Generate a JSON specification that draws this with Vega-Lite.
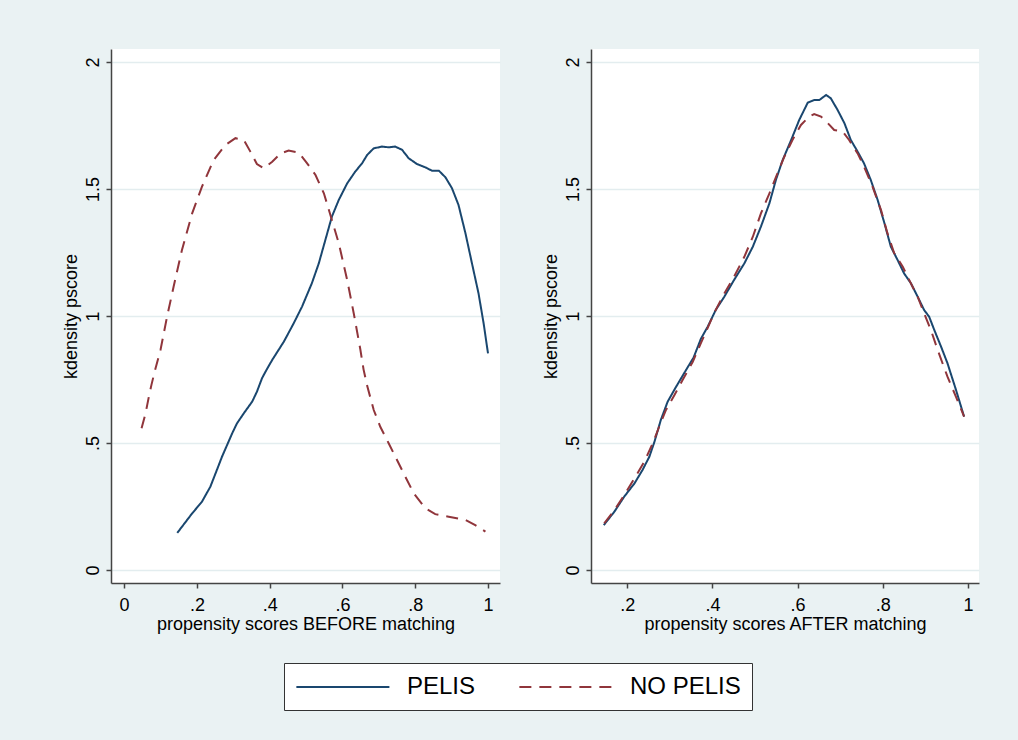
{
  "$schema": "https://vega.github.io/schema/vega-lite/v6.json",
  "background": "#EAF2F3",
  "padding": {"left": 62, "top": 49, "right": 40, "bottom": 30},
  "bounds": "flush",
  "spacing": 91,
  "data": {"values": [
    {"panel":"before","group":"PELIS","x":0.146,"y":0.146},
    {"panel":"before","group":"PELIS","x":0.187,"y":0.223},
    {"panel":"before","group":"PELIS","x":0.214,"y":0.269},
    {"panel":"before","group":"PELIS","x":0.237,"y":0.328},
    {"panel":"before","group":"PELIS","x":0.255,"y":0.394},
    {"panel":"before","group":"PELIS","x":0.269,"y":0.446},
    {"panel":"before","group":"PELIS","x":0.283,"y":0.492},
    {"panel":"before","group":"PELIS","x":0.297,"y":0.538},
    {"panel":"before","group":"PELIS","x":0.310,"y":0.577},
    {"panel":"before","group":"PELIS","x":0.329,"y":0.617},
    {"panel":"before","group":"PELIS","x":0.352,"y":0.663},
    {"panel":"before","group":"PELIS","x":0.365,"y":0.702},
    {"panel":"before","group":"PELIS","x":0.379,"y":0.755},
    {"panel":"before","group":"PELIS","x":0.391,"y":0.787},
    {"panel":"before","group":"PELIS","x":0.407,"y":0.827},
    {"panel":"before","group":"PELIS","x":0.439,"y":0.899},
    {"panel":"before","group":"PELIS","x":0.466,"y":0.971},
    {"panel":"before","group":"PELIS","x":0.489,"y":1.037},
    {"panel":"before","group":"PELIS","x":0.516,"y":1.129},
    {"panel":"before","group":"PELIS","x":0.535,"y":1.207},
    {"panel":"before","group":"PELIS","x":0.553,"y":1.299},
    {"panel":"before","group":"PELIS","x":0.571,"y":1.391},
    {"panel":"before","group":"PELIS","x":0.590,"y":1.457},
    {"panel":"before","group":"PELIS","x":0.613,"y":1.522},
    {"panel":"before","group":"PELIS","x":0.635,"y":1.568},
    {"panel":"before","group":"PELIS","x":0.654,"y":1.601},
    {"panel":"before","group":"PELIS","x":0.668,"y":1.634},
    {"panel":"before","group":"PELIS","x":0.686,"y":1.660},
    {"panel":"before","group":"PELIS","x":0.709,"y":1.667},
    {"panel":"before","group":"PELIS","x":0.727,"y":1.664},
    {"panel":"before","group":"PELIS","x":0.745,"y":1.667},
    {"panel":"before","group":"PELIS","x":0.764,"y":1.654},
    {"panel":"before","group":"PELIS","x":0.782,"y":1.621},
    {"panel":"before","group":"PELIS","x":0.805,"y":1.598},
    {"panel":"before","group":"PELIS","x":0.828,"y":1.585},
    {"panel":"before","group":"PELIS","x":0.846,"y":1.572},
    {"panel":"before","group":"PELIS","x":0.865,"y":1.572},
    {"panel":"before","group":"PELIS","x":0.883,"y":1.546},
    {"panel":"before","group":"PELIS","x":0.901,"y":1.503},
    {"panel":"before","group":"PELIS","x":0.919,"y":1.437},
    {"panel":"before","group":"PELIS","x":0.938,"y":1.326},
    {"panel":"before","group":"PELIS","x":0.956,"y":1.207},
    {"panel":"before","group":"PELIS","x":0.974,"y":1.089},
    {"panel":"before","group":"PELIS","x":0.988,"y":0.971},
    {"panel":"before","group":"PELIS","x":1.000,"y":0.853},
    {"panel":"before","group":"NO PELIS","x":0.048,"y":0.558},
    {"panel":"before","group":"NO PELIS","x":0.059,"y":0.617},
    {"panel":"before","group":"NO PELIS","x":0.068,"y":0.682},
    {"panel":"before","group":"NO PELIS","x":0.075,"y":0.728},
    {"panel":"before","group":"NO PELIS","x":0.084,"y":0.781},
    {"panel":"before","group":"NO PELIS","x":0.100,"y":0.866},
    {"panel":"before","group":"NO PELIS","x":0.118,"y":0.997},
    {"panel":"before","group":"NO PELIS","x":0.136,"y":1.115},
    {"panel":"before","group":"NO PELIS","x":0.159,"y":1.260},
    {"panel":"before","group":"NO PELIS","x":0.187,"y":1.404},
    {"panel":"before","group":"NO PELIS","x":0.214,"y":1.509},
    {"panel":"before","group":"NO PELIS","x":0.246,"y":1.614},
    {"panel":"before","group":"NO PELIS","x":0.278,"y":1.673},
    {"panel":"before","group":"NO PELIS","x":0.306,"y":1.700},
    {"panel":"before","group":"NO PELIS","x":0.329,"y":1.693},
    {"panel":"before","group":"NO PELIS","x":0.347,"y":1.647},
    {"panel":"before","group":"NO PELIS","x":0.365,"y":1.598},
    {"panel":"before","group":"NO PELIS","x":0.384,"y":1.581},
    {"panel":"before","group":"NO PELIS","x":0.407,"y":1.607},
    {"panel":"before","group":"NO PELIS","x":0.430,"y":1.640},
    {"panel":"before","group":"NO PELIS","x":0.452,"y":1.651},
    {"panel":"before","group":"NO PELIS","x":0.480,"y":1.643},
    {"panel":"before","group":"NO PELIS","x":0.503,"y":1.601},
    {"panel":"before","group":"NO PELIS","x":0.526,"y":1.555},
    {"panel":"before","group":"NO PELIS","x":0.549,"y":1.483},
    {"panel":"before","group":"NO PELIS","x":0.571,"y":1.378},
    {"panel":"before","group":"NO PELIS","x":0.590,"y":1.286},
    {"panel":"before","group":"NO PELIS","x":0.613,"y":1.142},
    {"panel":"before","group":"NO PELIS","x":0.631,"y":1.011},
    {"panel":"before","group":"NO PELIS","x":0.649,"y":0.870},
    {"panel":"before","group":"NO PELIS","x":0.658,"y":0.790},
    {"panel":"before","group":"NO PELIS","x":0.668,"y":0.725},
    {"panel":"before","group":"NO PELIS","x":0.686,"y":0.630},
    {"panel":"before","group":"NO PELIS","x":0.704,"y":0.564},
    {"panel":"before","group":"NO PELIS","x":0.727,"y":0.499},
    {"panel":"before","group":"NO PELIS","x":0.750,"y":0.433},
    {"panel":"before","group":"NO PELIS","x":0.773,"y":0.367},
    {"panel":"before","group":"NO PELIS","x":0.796,"y":0.302},
    {"panel":"before","group":"NO PELIS","x":0.828,"y":0.243},
    {"panel":"before","group":"NO PELIS","x":0.855,"y":0.220},
    {"panel":"before","group":"NO PELIS","x":0.892,"y":0.210},
    {"panel":"before","group":"NO PELIS","x":0.938,"y":0.197},
    {"panel":"before","group":"NO PELIS","x":0.965,"y":0.177},
    {"panel":"before","group":"NO PELIS","x":0.993,"y":0.151},
    {"panel":"after","group":"PELIS","x":0.145,"y":0.177},
    {"panel":"after","group":"PELIS","x":0.170,"y":0.230},
    {"panel":"after","group":"PELIS","x":0.193,"y":0.289},
    {"panel":"after","group":"PELIS","x":0.217,"y":0.341},
    {"panel":"after","group":"PELIS","x":0.236,"y":0.394},
    {"panel":"after","group":"PELIS","x":0.252,"y":0.446},
    {"panel":"after","group":"PELIS","x":0.264,"y":0.505},
    {"panel":"after","group":"PELIS","x":0.279,"y":0.591},
    {"panel":"after","group":"PELIS","x":0.295,"y":0.663},
    {"panel":"after","group":"PELIS","x":0.315,"y":0.722},
    {"panel":"after","group":"PELIS","x":0.338,"y":0.787},
    {"panel":"after","group":"PELIS","x":0.356,"y":0.837},
    {"panel":"after","group":"PELIS","x":0.373,"y":0.910},
    {"panel":"after","group":"PELIS","x":0.389,"y":0.958},
    {"panel":"after","group":"PELIS","x":0.408,"y":1.024},
    {"panel":"after","group":"PELIS","x":0.428,"y":1.076},
    {"panel":"after","group":"PELIS","x":0.451,"y":1.142},
    {"panel":"after","group":"PELIS","x":0.475,"y":1.207},
    {"panel":"after","group":"PELIS","x":0.495,"y":1.273},
    {"panel":"after","group":"PELIS","x":0.514,"y":1.352},
    {"panel":"after","group":"PELIS","x":0.534,"y":1.444},
    {"panel":"after","group":"PELIS","x":0.549,"y":1.535},
    {"panel":"after","group":"PELIS","x":0.565,"y":1.614},
    {"panel":"after","group":"PELIS","x":0.585,"y":1.693},
    {"panel":"after","group":"PELIS","x":0.604,"y":1.772},
    {"panel":"after","group":"PELIS","x":0.624,"y":1.840},
    {"panel":"after","group":"PELIS","x":0.639,"y":1.850},
    {"panel":"after","group":"PELIS","x":0.651,"y":1.850},
    {"panel":"after","group":"PELIS","x":0.667,"y":1.870},
    {"panel":"after","group":"PELIS","x":0.678,"y":1.857},
    {"panel":"after","group":"PELIS","x":0.694,"y":1.811},
    {"panel":"after","group":"PELIS","x":0.710,"y":1.759},
    {"panel":"after","group":"PELIS","x":0.725,"y":1.693},
    {"panel":"after","group":"PELIS","x":0.741,"y":1.647},
    {"panel":"after","group":"PELIS","x":0.756,"y":1.601},
    {"panel":"after","group":"PELIS","x":0.772,"y":1.535},
    {"panel":"after","group":"PELIS","x":0.788,"y":1.457},
    {"panel":"after","group":"PELIS","x":0.804,"y":1.365},
    {"panel":"after","group":"PELIS","x":0.819,"y":1.273},
    {"panel":"after","group":"PELIS","x":0.835,"y":1.220},
    {"panel":"after","group":"PELIS","x":0.850,"y":1.168},
    {"panel":"after","group":"PELIS","x":0.866,"y":1.129},
    {"panel":"after","group":"PELIS","x":0.882,"y":1.076},
    {"panel":"after","group":"PELIS","x":0.897,"y":1.024},
    {"panel":"after","group":"PELIS","x":0.909,"y":0.997},
    {"panel":"after","group":"PELIS","x":0.921,"y":0.945},
    {"panel":"after","group":"PELIS","x":0.937,"y":0.879},
    {"panel":"after","group":"PELIS","x":0.952,"y":0.814},
    {"panel":"after","group":"PELIS","x":0.972,"y":0.709},
    {"panel":"after","group":"PELIS","x":0.991,"y":0.604},
    {"panel":"after","group":"NO PELIS","x":0.146,"y":0.184},
    {"panel":"after","group":"NO PELIS","x":0.170,"y":0.236},
    {"panel":"after","group":"NO PELIS","x":0.193,"y":0.295},
    {"panel":"after","group":"NO PELIS","x":0.217,"y":0.361},
    {"panel":"after","group":"NO PELIS","x":0.240,"y":0.426},
    {"panel":"after","group":"NO PELIS","x":0.260,"y":0.499},
    {"panel":"after","group":"NO PELIS","x":0.275,"y":0.564},
    {"panel":"after","group":"NO PELIS","x":0.291,"y":0.630},
    {"panel":"after","group":"NO PELIS","x":0.311,"y":0.689},
    {"panel":"after","group":"NO PELIS","x":0.330,"y":0.748},
    {"panel":"after","group":"NO PELIS","x":0.354,"y":0.820},
    {"panel":"after","group":"NO PELIS","x":0.373,"y":0.893},
    {"panel":"after","group":"NO PELIS","x":0.385,"y":0.938},
    {"panel":"after","group":"NO PELIS","x":0.404,"y":1.011},
    {"panel":"after","group":"NO PELIS","x":0.428,"y":1.089},
    {"panel":"after","group":"NO PELIS","x":0.451,"y":1.155},
    {"panel":"after","group":"NO PELIS","x":0.475,"y":1.233},
    {"panel":"after","group":"NO PELIS","x":0.495,"y":1.312},
    {"panel":"after","group":"NO PELIS","x":0.514,"y":1.404},
    {"panel":"after","group":"NO PELIS","x":0.534,"y":1.483},
    {"panel":"after","group":"NO PELIS","x":0.553,"y":1.562},
    {"panel":"after","group":"NO PELIS","x":0.569,"y":1.627},
    {"panel":"after","group":"NO PELIS","x":0.588,"y":1.693},
    {"panel":"after","group":"NO PELIS","x":0.608,"y":1.752},
    {"panel":"after","group":"NO PELIS","x":0.627,"y":1.785},
    {"panel":"after","group":"NO PELIS","x":0.639,"y":1.795},
    {"panel":"after","group":"NO PELIS","x":0.655,"y":1.785},
    {"panel":"after","group":"NO PELIS","x":0.671,"y":1.759},
    {"panel":"after","group":"NO PELIS","x":0.686,"y":1.732},
    {"panel":"after","group":"NO PELIS","x":0.706,"y":1.726},
    {"panel":"after","group":"NO PELIS","x":0.721,"y":1.693},
    {"panel":"after","group":"NO PELIS","x":0.741,"y":1.640},
    {"panel":"after","group":"NO PELIS","x":0.756,"y":1.588},
    {"panel":"after","group":"NO PELIS","x":0.776,"y":1.509},
    {"panel":"after","group":"NO PELIS","x":0.796,"y":1.417},
    {"panel":"after","group":"NO PELIS","x":0.811,"y":1.326},
    {"panel":"after","group":"NO PELIS","x":0.827,"y":1.247},
    {"panel":"after","group":"NO PELIS","x":0.847,"y":1.194},
    {"panel":"after","group":"NO PELIS","x":0.862,"y":1.142},
    {"panel":"after","group":"NO PELIS","x":0.882,"y":1.076},
    {"panel":"after","group":"NO PELIS","x":0.897,"y":1.011},
    {"panel":"after","group":"NO PELIS","x":0.913,"y":0.945},
    {"panel":"after","group":"NO PELIS","x":0.929,"y":0.866},
    {"panel":"after","group":"NO PELIS","x":0.952,"y":0.761},
    {"panel":"after","group":"NO PELIS","x":0.972,"y":0.682},
    {"panel":"after","group":"NO PELIS","x":0.991,"y":0.604}
  ]},
  "hconcat": [
    {
      "width": 389,
      "height": 534,
      "transform": [{"filter": "datum.panel === 'before'"}],
      "mark": {"type": "line", "strokeWidth": 2, "clip": true},
      "encoding": {
        "x": {"field": "x", "type": "quantitative",
              "scale": {"domain": [-0.036, 1.033], "nice": false, "zero": false},
              "axis": {"values": [0, 0.2, 0.4, 0.6, 0.8, 1], "grid": false, "title": "propensity scores BEFORE matching",
                       "labelExpr": "datum.value > 0 && datum.value < 1 ? replace(format(datum.value, '.1f'), '0.', '.') : format(datum.value, '~g')"}},
        "y": {"field": "y", "type": "quantitative",
              "scale": {"domain": [-0.051, 2.051], "nice": false, "zero": false},
              "axis": {"values": [0, 0.5, 1, 1.5, 2], "grid": true, "title": "kdensity pscore",
                       "labelAngle": 270, "labelAlign": "center", "labelBaseline": "bottom",
                       "labelExpr": "datum.value > 0 && datum.value < 1 ? replace(format(datum.value, '.1f'), '0.', '.') : format(datum.value, '~g')"}},
        "color": {"field": "group", "type": "nominal",
                  "scale": {"domain": ["PELIS", "NO PELIS"], "range": ["#1A476F", "#90353B"]},
                  "legend": {"orient": "none", "legendX": 173, "legendY": 614, "title": null, "direction": "horizontal"}},
        "strokeDash": {"field": "group", "type": "nominal",
                  "scale": {"domain": ["PELIS", "NO PELIS"], "range": [[1, 0], [12, 8]]},
                  "legend": {"orient": "none", "legendX": 173, "legendY": 614, "title": null, "direction": "horizontal"}}
      }
    },
    {
      "width": 388,
      "height": 534,
      "transform": [{"filter": "datum.panel === 'after'"}],
      "mark": {"type": "line", "strokeWidth": 2, "clip": true},
      "encoding": {
        "x": {"field": "x", "type": "quantitative",
              "scale": {"domain": [0.115, 1.026], "nice": false, "zero": false},
              "axis": {"values": [0.2, 0.4, 0.6, 0.8, 1], "grid": false, "title": "propensity scores AFTER matching",
                       "labelExpr": "datum.value > 0 && datum.value < 1 ? replace(format(datum.value, '.1f'), '0.', '.') : format(datum.value, '~g')"}},
        "y": {"field": "y", "type": "quantitative",
              "scale": {"domain": [-0.051, 2.051], "nice": false, "zero": false},
              "axis": {"values": [0, 0.5, 1, 1.5, 2], "grid": true, "title": "kdensity pscore",
                       "labelAngle": 270, "labelAlign": "center", "labelBaseline": "bottom",
                       "labelExpr": "datum.value > 0 && datum.value < 1 ? replace(format(datum.value, '.1f'), '0.', '.') : format(datum.value, '~g')"}},
        "color": {"field": "group", "type": "nominal",
                  "scale": {"domain": ["PELIS", "NO PELIS"], "range": ["#1A476F", "#90353B"]},
                  "legend": {"orient": "none", "legendX": 173, "legendY": 614, "title": null, "direction": "horizontal"}},
        "strokeDash": {"field": "group", "type": "nominal",
                  "scale": {"domain": ["PELIS", "NO PELIS"], "range": [[1, 0], [12, 8]]},
                  "legend": {"orient": "none", "legendX": 173, "legendY": 614, "title": null, "direction": "horizontal"}}
      }
    }
  ],
  "config": {
    "font": "Liberation Sans",
    "view": {"fill": "white", "stroke": null},
    "axis": {
      "domainColor": "#444444", "domainWidth": 1.5,
      "tickColor": "#444444", "tickWidth": 1.5, "tickSize": 5,
      "labelFont": "Liberation Sans", "labelFontSize": 18, "labelColor": "#000000", "labelPadding": 4,
      "titleFont": "Liberation Sans", "titleFontSize": 18, "titleFontWeight": "normal", "titleColor": "#000000", "titlePadding": 4,
      "gridColor": "#E3EDEF", "gridWidth": 1.5, "labelFlush": false, "labelOverlap": false
    },
    "axisX": {"labelPadding": 8, "titlePadding": 1},
    "legend": {
      "fillColor": "white", "strokeColor": "#333333", "padding": 11,
      "symbolType": "M-1,0H7", "symbolSize": 541, "symbolStrokeWidth": 2,
      "labelFont": "Liberation Sans", "labelFontSize": 24, "labelColor": "#000000",
      "labelOffset": 86, "columnPadding": 39
    }
  }
}
